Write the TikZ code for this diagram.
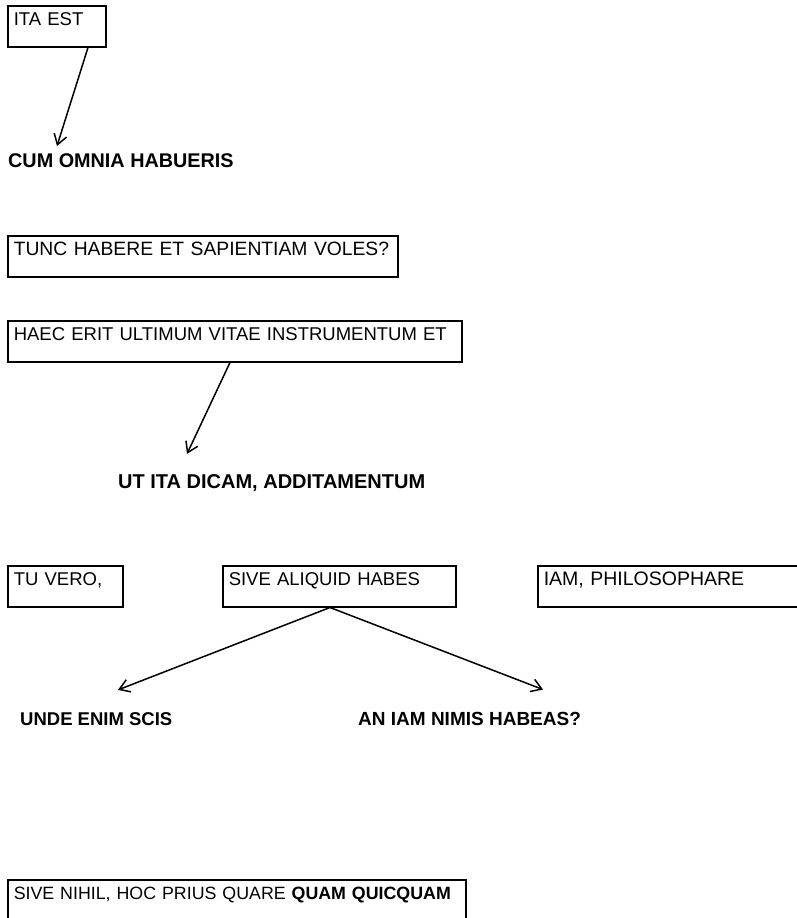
\documentclass[tikz,border=0pt]{standalone}
\usepackage{fontspec}
\setmainfont{Liberation Sans}
\usetikzlibrary{arrows.meta,calc}
\begin{document}
\begin{tikzpicture}[x=1pt,y=-1pt,
  fs/.style={font=\fontsize{#1}{22}\selectfont},
  textbox/.style={draw, line width=1.5pt, anchor=north west, inner xsep=6pt,
    inner ysep=0pt, text height=20pt, text depth=21pt, align=left, fs=18.5},
  label/.style={anchor=base west, inner sep=0pt, fs=#1},
  arr/.style={line width=1.5pt, -{Straight Barb[length=10pt,width=13pt,line width=1.5pt]}}]
\useasboundingbox (0,0) rectangle (797,918);

% top chain
\node[textbox, text width=86pt] (ita) at (7,5) {\mbox{ITA EST}};
\node[label=19.8] (cum) at (8,167) {\bfseries CUM OMNIA HABUERIS};
\draw[arr] ($(ita.south west)+(81,0)$) -- ($(cum.north west)+(49,-7)$);

\node[textbox, text width=378pt, fs=19.3] (tunc) at (7,235) {\mbox{TUNC HABERE ET SAPIENTIAM VOLES?}};

\node[textbox, text width=442pt] (haec) at (7,320) {\mbox{HAEC ERIT ULTIMUM VITAE INSTRUMENTUM ET}};
\node[label=20] (ut) at (118,488) {\bfseries UT ITA DICAM, ADDITAMENTUM};
\draw[arr] ($(haec.south west)+(223,0)$) -- ($(ut.north west)+(69,-20)$);

% middle row
\node[textbox, text width=103pt] (tuvero) at (7,565) {\mbox{TU VERO,}};
\node[textbox, text width=221pt] (sive) at (222,565) {\mbox{SIVE ALIQUID HABES}};
\node[textbox, text width=260pt, fs=19.5] (iam) at (537,565) {\mbox{IAM, PHILOSOPHARE}};

\node[label=18.5] (unde) at (20,725) {\bfseries UNDE ENIM SCIS};
\node[label=19] (an) at (358,725) {\bfseries AN IAM NIMIS HABEAS?};
\coordinate (fork) at ($(sive.south west)+(108,0)$);
\draw[arr] (fork) -- ($(unde.north west)+(98,-22)$);
\draw[arr] (fork) -- ($(an.north west)+(185,-22)$);

% bottom box, running past the lower edge
\node[textbox, text width=446pt, text depth=30pt, fs=17.8] (nihil) at (7,879)
  {\mbox{SIVE NIHIL, HOC PRIUS QUARE \textbf{QUAM QUICQUAM}}};
\end{tikzpicture}
\end{document}
